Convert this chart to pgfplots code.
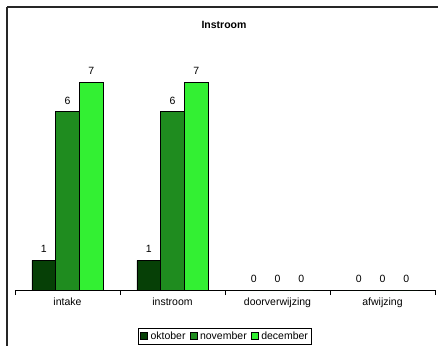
\documentclass[border=0pt]{standalone}
\usepackage{pgfplots}
\pgfplotsset{compat=1.18}
\usepackage{fontspec}
\setmainfont{Liberation Sans}
\definecolor{okt}{HTML}{064006}
\definecolor{nov}{HTML}{1F8C1F}
\definecolor{dec}{HTML}{33F033}
\begin{document}
\begin{tikzpicture}[x=1pt,y=1pt]
\useasboundingbox (0,0) rectangle (438,345);
\begin{scope}
\clip (0,0) rectangle (438,345);
\draw[line width=1.6pt, black!85] (7,338) -- (7,-10) ;
\draw[line width=1.6pt, black!85] (7,338) -- (450,338);
\end{scope}
\node[font=\fontsize{10.5}{12}\selectfont\bfseries] at (224,320) {Instroom};
\begin{axis}[
  at={(67.5pt,55pt)}, anchor=origin,
  scale only axis, width=420pt, height=252.5pt,
  xmin=-0.5, xmax=3.5, ymin=0, ymax=8.5,
  axis x line*=bottom, axis y line=none,
  axis line style={black, line width=0.8pt},
  ybar=0pt, bar width=23.7pt,
  /pgf/number format/assume math mode=true,
  xtick={0,1,2,3},
  xticklabels={intake,instroom,doorverwijzing,afwijzing},
  major tick length=0pt,
  extra x ticks={-0.5,0.5,1.5,2.5,3.5},
  extra x tick labels={},
  extra x tick style={major tick length=5pt, tick align=outside, tick style={black, line width=0.8pt}},
  xticklabel style={font=\fontsize{10.5}{12}\selectfont, yshift=-4pt},
  nodes near coords,
  every node near coord/.append style={font=\fontsize{10.5}{12}\selectfont, yshift=4pt},
  legend columns=3,
  legend style={at={(0.5,-0.182)}, anchor=center, font=\fontsize{10.5}{12}\selectfont,
    draw=black, line width=0.6pt, inner sep=1.5pt,
    /tikz/every odd column/.append style={column sep=1pt},
    /tikz/every even column/.append style={column sep=2pt}},
  legend image code/.code={\draw[#1, draw=black, line width=0.5pt] (0pt,-3.5pt) rectangle (7pt,3.5pt);},
]
\addplot[fill=okt, draw=black, line width=0.6pt] coordinates {(0,1) (1,1) (2,0) (3,0)};
\addplot[fill=nov, draw=black, line width=0.6pt] coordinates {(0,6) (1,6) (2,0) (3,0)};
\addplot[fill=dec, draw=black, line width=0.6pt] coordinates {(0,7) (1,7) (2,0) (3,0)};
\legend{oktober,november,december}
\end{axis}
\end{tikzpicture}
\end{document}
